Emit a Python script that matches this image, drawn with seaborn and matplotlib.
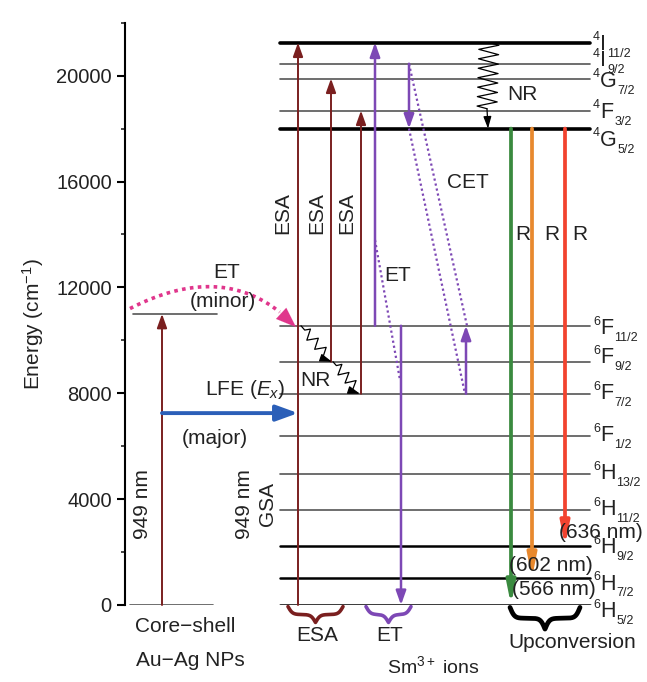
import numpy as np
import matplotlib
matplotlib.use('Agg')
import matplotlib.pyplot as plt
import seaborn as sns
from matplotlib.ticker import MultipleLocator

# ---------------- data ----------------
level_mult = ['4', '4', '4', '4', '4', '6', '6', '6', '6', '6', '6', '6', '6', '6']
level_letter = ['I', 'I', 'G', 'F', 'G', 'F', 'F', 'F', 'F', 'H', 'H', 'H', 'H', 'H']
level_J = ['11/2', '9/2', '7/2', '3/2', '5/2', '11/2', '9/2', '7/2', '1/2',
           '13/2', '11/2', '9/2', '7/2', '5/2']
level_energy = [21250, 20450, 19890, 18680, 18000, 10550, 9190, 7980, 6390,
                4950, 3590, 2230, 1020, 0]
np_levels = [0, 11000]            # Au-Ag NP ground / plasmon level
emission_nm = ['(566 nm)', '(602 nm)', '(636 nm)']
emission_final = [0, 1020, 2230]  # 6H5/2, 6H7/2, 6H9/2
emission_start = 18000            # 4G5/2
yticks = [0, 4000, 8000, 12000, 16000, 20000]

# ---------------- style ----------------
sns.set_theme(style='ticks')
plt.rcParams['font.family'] = ['Liberation Sans', 'DejaVu Sans']
plt.rcParams['mathtext.fontset'] = 'custom'
plt.rcParams['mathtext.rm'] = 'Liberation Sans'
plt.rcParams['mathtext.it'] = 'Liberation Sans:italic'
plt.rcParams['mathtext.bf'] = 'Liberation Sans:bold'

BROWN = '#7a1f1f'
PURPLE = '#7d48b5'
BLUE = '#2b5fb8'
PINK = '#e0368c'
GREEN = '#3a8a3f'
ORANGE = '#e8892e'
RED = '#f2432f'
FS = 15
TEXT = '#222222'

fig = plt.figure(figsize=(6.47, 6.82), dpi=100)
fig.patch.set_facecolor('white')
ax = fig.add_axes([125/647, (682-605)/682, (647-125)/647, (605-22.7)/682])
ax.set_xlim(125, 647)
ax.set_ylim(0, 22000)
PX = 26.47 / 1000.0  # pixels per energy unit (for shape helpers)

for s in ['top', 'right', 'bottom']:
    ax.spines[s].set_visible(False)
ax.spines['left'].set_linewidth(1.5)
ax.spines['left'].set_color('black')
ax.set_xticks([])
ax.set_yticks(yticks)
ax.yaxis.set_minor_locator(MultipleLocator(2000))
ax.tick_params(axis='y', which='major', direction='out', length=6, width=1.5,
               labelsize=14.5, colors='black', labelcolor=TEXT)
ax.tick_params(axis='y', which='minor', direction='out', length=3, width=1.2)
ax.set_ylabel('Energy (cm$^{-1}$)', fontsize=FS, color=TEXT)
ax.yaxis.set_label_coords(-0.152, 0.483)


def txt(x, y, s, **kw):
    kw.setdefault('fontsize', FS)
    kw.setdefault('ha', 'center')
    kw.setdefault('va', 'center')
    kw.setdefault('color', TEXT)
    return ax.text(x, y, s, clip_on=False, **kw)


def arrow(x0, y0, x1, y1, color, lw, hl=0.7, hw=0.25, ls='-'):
    ax.annotate('', xy=(x1, y1), xytext=(x0, y0),
                arrowprops=dict(arrowstyle=f'-|>,head_length={hl},head_width={hw}',
                                color=color, lw=lw, shrinkA=0, shrinkB=0, linestyle=ls),
                annotation_clip=False)


def zigzag(x0, y0, x1, y1, n, amp, lead=0.1):
    p0 = np.array([x0, y0 * PX]); p1 = np.array([x1, y1 * PX])
    d = p1 - p0; L = np.hypot(*d); u = d / L; nrm = np.array([-u[1], u[0]])
    pts = [p0, p0 + u * L * lead]
    for i in range(2 * n):
        t = lead + (i + 0.5) / (2 * n) * (1 - 2 * lead)
        pts.append(p0 + u * L * t + nrm * amp * (1 if i % 2 == 0 else -1))
    pts.append(p0 + u * L * (1 - lead))
    pts = np.array(pts)
    return pts[:, 0], pts[:, 1] / PX


def brace(x0, x1, ytop, depth, color, lw):
    xs = np.linspace(x0, x1, 401)
    half = xs[:201]
    beta = 0.45
    yh = 1 / (1 + np.exp(-beta * (half - half[0]))) + 1 / (1 + np.exp(-beta * (half - half[-1])))
    yy = np.concatenate([yh, yh[-2::-1]])
    ax.plot(xs, ytop - (yy - 0.5) * depth, color=color, lw=lw, clip_on=False,
            solid_capstyle='round')


# ---------------- energy levels ----------------
level_df_x = [280, 590]
thick = {0: 2.6, 4: 2.6, 11: 1.8, 12: 1.8, 13: 1.8}
for i, e in enumerate(level_energy):
    lw = thick.get(i, 1.2)
    col = 'black' if i in thick else '#555555'
    sns.lineplot(x=level_df_x, y=[e, e], color=col, lw=lw, ax=ax, zorder=1)

# term-symbol labels (letter centre offset from the level, in px downward)
label_dpx = [2, -3, 3, 2, 12, 3, -4, 0, 0, 0, 0, 2, 6, 7]
letter_em = {'I': 0.278, 'G': 0.778, 'F': 0.611, 'H': 0.722}
LFS, SFS = 15.5, 9
for m, L, J, e, dpx in zip(level_mult, level_letter, level_J, level_energy, label_dpx):
    yc = e - dpx / PX
    ax.annotate(L, xy=(593, yc), xytext=(5.3, 0), textcoords='offset points',
                fontsize=LFS, va='center', ha='left', color=TEXT, annotation_clip=False)
    ax.annotate(m, xy=(593, yc), xytext=(0, 5.2), textcoords='offset points',
                fontsize=SFS, va='center', ha='left', color=TEXT, annotation_clip=False)
    xs = 5.3 + letter_em[L] * LFS + 0.4
    ax.annotate(J, xy=(593, yc), xytext=(xs, -6.6), textcoords='offset points',
                fontsize=SFS, va='center', ha='left', color=TEXT, annotation_clip=False)

# NP levels
sns.lineplot(x=[130, 213], y=[np_levels[0]] * 2, color='#555555', lw=1.2, ax=ax)
sns.lineplot(x=[133, 217], y=[np_levels[1]] * 2, color='#555555', lw=1.2, ax=ax)
arrow(162, np_levels[0], 162, np_levels[1], BROWN, 1.4)
txt(143, 3800, '949 nm', rotation=90)

# LFE blue arrow
arrow(162, 7250, 298, 7250, BLUE, 2.8, hl=1.1, hw=0.4)
txt(245, 8150, r'LFE ($E_x$)')
txt(215, 6300, '(major)')

# pink dotted ET (minor) curve
t = np.linspace(0, 0.88, 80)
P0 = np.array([130, 11200]); P1 = np.array([230, 13150]); P2 = np.array([296, 10500])
bx = (1 - t) ** 2 * P0[0] + 2 * (1 - t) * t * P1[0] + t ** 2 * P2[0]
by = (1 - t) ** 2 * P0[1] + 2 * (1 - t) * t * P1[1] + t ** 2 * P2[1]
ax.plot(bx, by, color=PINK, lw=2.6, ls=(0, (1, 1.2)))
arrow(bx[-1], by[-1], P2[0], P2[1], PINK, 0.1, hl=1.2, hw=0.45)
txt(227, 12550, 'ET')
txt(223, 11480, '(minor)')

# GSA / ESA arrows
arrow(298, level_energy[13], 298, level_energy[0], BROWN, 1.4)
arrow(331, level_energy[6], 331, level_energy[2], BROWN, 1.4)
arrow(361, level_energy[7], 361, level_energy[3], BROWN, 1.4)
for xx in [283, 317, 347]:
    txt(xx, 14800, 'ESA', rotation=90)
txt(244, 3800, '949 nm', rotation=90)
txt(268, 3800, 'GSA', rotation=90)

# NR lower
zx, zy = zigzag(301, level_energy[5], 332, level_energy[6], 3, 5, lead=0.12)
ax.plot(zx[:-1], zy[:-1], color='black', lw=0.9)
arrow(zx[-2], zy[-2], 332, level_energy[6], 'black', 0.9, hl=0.6, hw=0.2)
zx, zy = zigzag(333, level_energy[6], 361, level_energy[7], 3, 5, lead=0.12)
ax.plot(zx[:-1], zy[:-1], color='black', lw=0.9)
arrow(zx[-2], zy[-2], 360, level_energy[7], 'black', 0.9, hl=0.6, hw=0.2)
txt(315, 8500, 'NR')

# ET (Sm-Sm)
arrow(375, level_energy[5], 375, level_energy[0], PURPLE, 1.8)
ax.plot([375, 400], [13790, 8500], color=PURPLE, lw=1.6, ls=(0, (1, 1.3)))
arrow(401, level_energy[5], 401, level_energy[13], PURPLE, 1.8)
txt(398, 12450, 'ET')

# CET
arrow(409, level_energy[1], 409, level_energy[4], PURPLE, 1.8)
ax.plot([409, 467], [level_energy[1], level_energy[5]], color=PURPLE, lw=1.6, ls=(0, (1, 1.3)))
ax.plot([409, 465], [level_energy[4], level_energy[7]], color=PURPLE, lw=1.6, ls=(0, (1, 1.3)))
arrow(466, level_energy[7], 466, level_energy[5], PURPLE, 1.8)
txt(468, 15950, 'CET')

# NR top
zx, zy = zigzag(489, level_energy[0], 487, 18750, 7, 10, lead=0.0)
ax.plot(zx, zy, color='black', lw=0.9)
arrow(487, 18750, 488, level_energy[4], 'black', 0.9, hl=0.6, hw=0.2)
txt(522, 19270, 'NR')

# radiative emissions
for xx, col, yend in zip([511, 532, 565], [GREEN, ORANGE, RED], emission_final):
    arrow(xx, emission_start, xx, yend, col, 2.7, hl=1.1, hw=0.22)
for xx in [523, 552, 580]:
    txt(xx, 13980, 'R')
for lab, xx, yy in zip(emission_nm, [554, 551, 601], [570, 1500, 2750]):
    txt(xx, yy, lab)

# braces and bottom texts
brace(288, 343, -60, 600, BROWN, 2.6)
brace(366, 411, -60, 600, PURPLE, 2.6)
brace(510, 580, -90, 820, 'black', 3.4)
txt(317, -1150, 'ESA')
txt(390, -1150, 'ET')
txt(572, -1400, 'Upconversion')
txt(433, -2300, r'Sm$^{3+}$ ions', fontsize=FS - 1)
txt(185, -830, 'Core\u2212shell')
txt(190, -2080, 'Au\u2212Ag NPs')

ax.set_xlabel('')
ax.set_ylim(0, 22000)
fig.savefig('out.png', dpi=100, facecolor='white')
